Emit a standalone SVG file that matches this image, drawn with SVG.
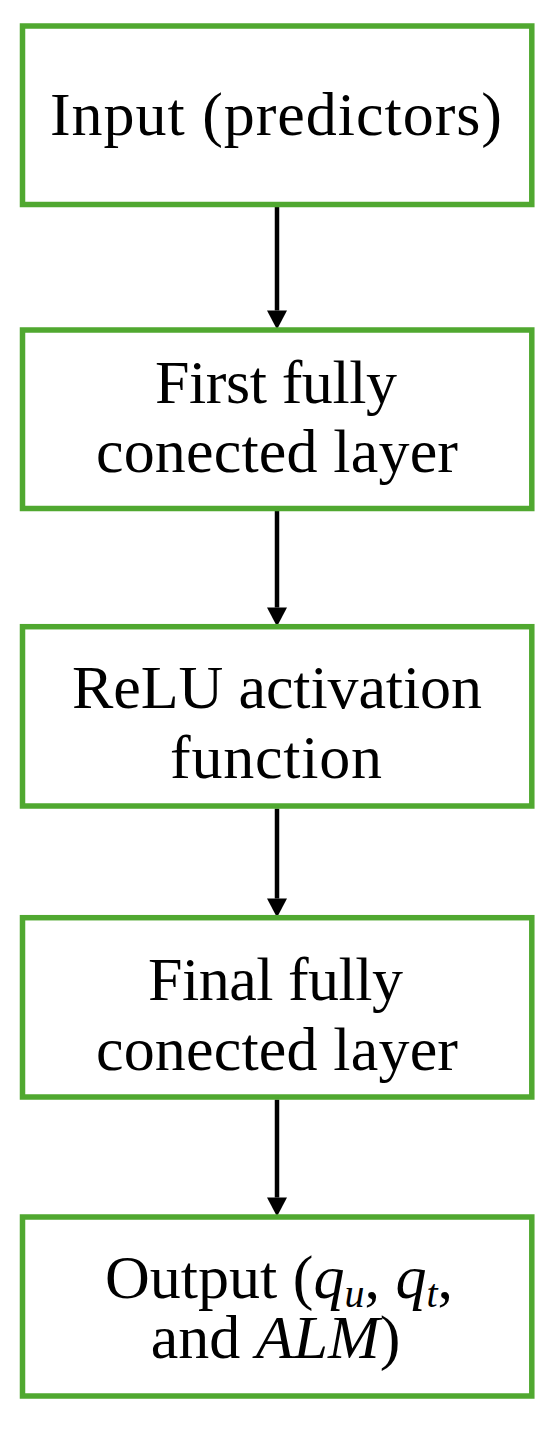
<svg xmlns="http://www.w3.org/2000/svg" width="550" height="1429" viewBox="0 0 550 1429">
  <style>
    .box { fill: #ffffff; stroke: #50A830; stroke-width: 5.5; }
    .lbl { font-family: "Liberation Serif", "DejaVu Serif", serif; font-size: 62px; fill: #000000; text-anchor: middle; }
    .it { font-style: italic; }
    .sub { font-size: 40px; font-style: italic; }
    .conn { stroke: #000000; stroke-width: 4.5; fill: none; }
  </style>
  <defs>
    <marker id="ah" markerUnits="userSpaceOnUse" markerWidth="20" markerHeight="20" viewBox="0 0 19 20" refX="0" refY="10" orient="auto">
      <path d="M0,0 L19,10 L0,20 z" fill="#000000"/>
    </marker>
  </defs>
  <rect x="0" y="0" width="550" height="1429" fill="#ffffff"/>

  <g id="connectors">
    <line class="conn" x1="277" y1="207" x2="277" y2="310.5" marker-end="url(#ah)"/>
    <line class="conn" x1="277" y1="511" x2="277" y2="607.5" marker-end="url(#ah)"/>
    <line class="conn" x1="277" y1="808.5" x2="277" y2="898.5" marker-end="url(#ah)"/>
    <line class="conn" x1="277" y1="1099.5" x2="277" y2="1197.5" marker-end="url(#ah)"/>
  </g>

  <g id="node-input">
    <rect class="box" x="22.5" y="26" width="509.3" height="178.5"/>
    <text class="lbl" x="276" y="135" textLength="452">Input (predictors)</text>
  </g>

  <g id="node-first">
    <rect class="box" x="22.5" y="330" width="509.3" height="178.5"/>
    <text class="lbl" x="276" y="403" textLength="242">First fully</text>
    <text class="lbl" x="277" y="472" textLength="362">conected layer</text>
  </g>

  <g id="node-relu">
    <rect class="box" x="22.5" y="626.7" width="509.3" height="179.3"/>
    <text class="lbl" x="277" y="708" textLength="410">ReLU activation</text>
    <text class="lbl" x="276" y="778" textLength="212">function</text>
  </g>

  <g id="node-final">
    <rect class="box" x="22.5" y="917.7" width="509.3" height="179.3"/>
    <text class="lbl" x="275.5" y="1000" textLength="255">Final fully</text>
    <text class="lbl" x="277" y="1070" textLength="362">conected layer</text>
  </g>

  <g id="node-output">
    <rect class="box" x="22.5" y="1217" width="509.3" height="179"/>
    <text class="lbl" x="279" y="1298">Output (<tspan class="it">q</tspan><tspan class="sub" dy="9">u</tspan><tspan dy="-9">, </tspan><tspan class="it">q</tspan><tspan class="sub" dy="9">t</tspan><tspan dy="-9">,</tspan></text>
    <text class="lbl" x="275.5" y="1358">and <tspan class="it">ALM</tspan>)</text>
  </g>
</svg>
